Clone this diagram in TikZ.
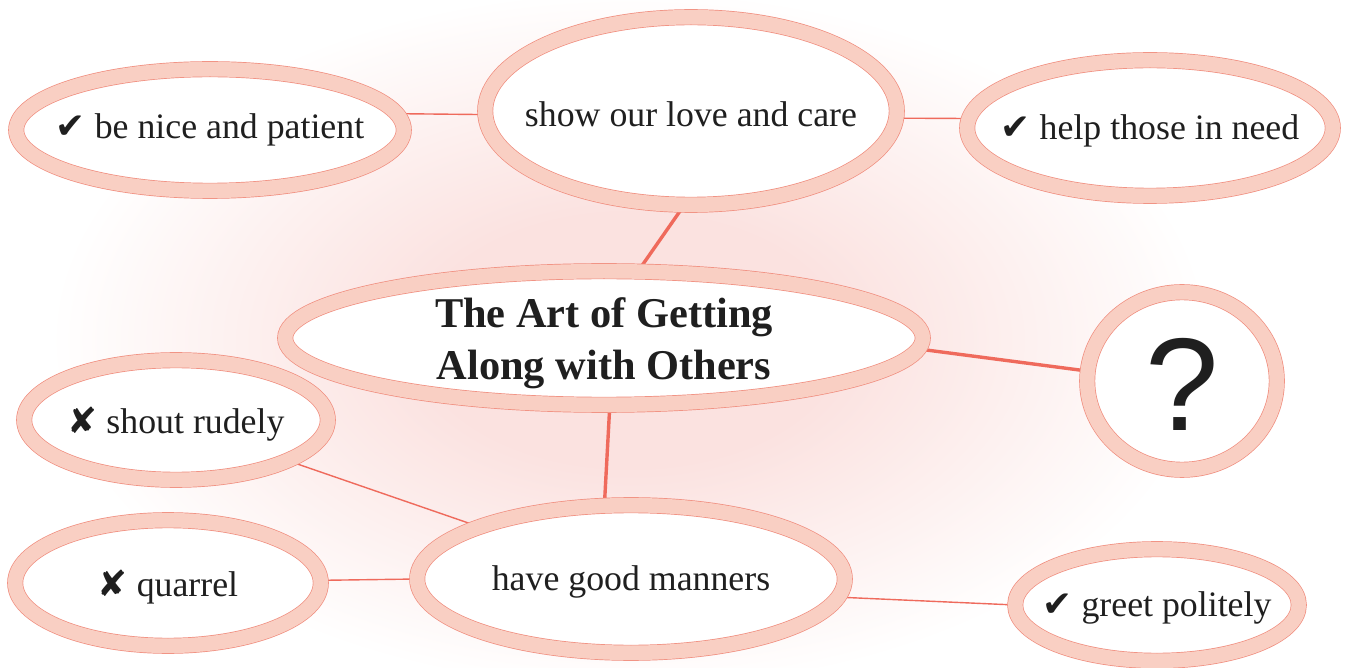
\documentclass[tikz,border=0pt]{standalone}
\usepackage{fontspec}
\setmainfont{Liberation Serif}
\newfontfamily\symfont{DejaVu Sans}
\newfontfamily\qfont{Liberation Sans}
\usetikzlibrary{shapes.geometric}
\definecolor{ringc}{RGB}{249,207,195}
\definecolor{edgec}{RGB}{240,140,125}
\definecolor{linkc}{RGB}{239,106,92}
\definecolor{glowc}{RGB}{251,226,224}
\pgfdeclareradialshading{glowshade}{\pgfpoint{0bp}{0bp}}{color(0bp)=(glowc); color(9bp)=(glowc); color(25bp)=(white); color(50bp)=(white)}
\pgfdeclarelayer{glowlayer}
\pgfdeclarelayer{back}
\pgfsetlayers{glowlayer,back,main}
\tikzset{
  ring/.style={ellipse, draw=edgec, line width=0.35pt, double=ringc, double distance=7.3pt,
    fill=white, inner sep=0pt, outer sep=0pt},
  itemtext/.style={font=\fontsize{17.9}{21}\selectfont, text=black!88, inner sep=0pt, yshift=-1.5pt},
  titletext/.style={font=\fontsize{21.2}{26}\selectfont\bfseries, text=black!88, align=center, inner sep=0pt, yshift=-2.5pt},
  thick link/.style={draw=linkc, line width=1.7pt},
  thin link/.style={draw=linkc, line width=0.7pt},
}
\newcommand{\ck}{{\symfont ✔}\ }
\newcommand{\cx}{{\symfont ✘}\ }
\begin{document}
\begin{tikzpicture}[x=0.5pt,y=-0.5pt]
\useasboundingbox (0,0) rectangle (1345,668);
\begin{pgfonlayer}{glowlayer}
  \fill[white] (0,0) rectangle (1345,668);
  \begin{scope}
    \clip (0,0) rectangle (1345,668);
    \shade[shading=glowshade] (630,340) ellipse [x radius=290pt, y radius=175pt];
  \end{scope}
\end{pgfonlayer}

\node[ring, minimum width=193.8pt, minimum height=60.8pt,
  label={[itemtext, yshift=1.5pt]center:\ck be nice and patient}] (nice) at (210,130) {};
\node[ring, minimum width=205.8pt, minimum height=93.8pt,
  label={[itemtext]center:show our love and care}] (show) at (691,111) {};
\node[ring, minimum width=182.8pt, minimum height=67.8pt,
  label={[itemtext]center:\ck help those in need}] (help) at (1150,128) {};
\node[ring, minimum width=318.8pt, minimum height=66.8pt,
  label={[titletext]center:{The Art of Getting\\Along with Others}}] (main) at (604,338) {};
\node[ring, minimum width=94.8pt, minimum height=88.8pt,
  label={[font=\qfont\fontsize{66}{70}\selectfont, text=black!88, inner sep=0pt, yshift=-1.5pt]center:?}] (q) at (1182,381) {};
\node[ring, minimum width=151.8pt, minimum height=59.8pt,
  label={[itemtext, yshift=-0.5pt]center:\cx shout rudely}] (shout) at (176,420) {};
\node[ring, minimum width=152.8pt, minimum height=62.8pt,
  label={[itemtext, yshift=-0.5pt]center:\cx quarrel}] (quarrel) at (168,583) {};
\node[ring, minimum width=213.8pt, minimum height=73.8pt,
  label={[itemtext]center:have good manners}] (manners) at (631,579) {};
\node[ring, minimum width=141.8pt, minimum height=55.8pt,
  label={[itemtext]center:\ck greet politely}] (greet) at (1157,605) {};

\begin{pgfonlayer}{back}
  \draw[thick link] (show.266) -- (main.63);
  \draw[thick link] (main.-2) -- (q.174);
  \draw[thick link] (main.-85) -- (manners.110);
  \draw[thin link] (nice.5) -- (show.181);
  \draw[thin link] (show.-2) -- (help.177);
  \draw[thin link] (shout.-20) -- (manners.161);
  \draw[thin link] (quarrel.1) -- (manners.180);
  \draw[thin link] (manners.-5) -- (greet.180);
\end{pgfonlayer}
\end{tikzpicture}
\end{document}
